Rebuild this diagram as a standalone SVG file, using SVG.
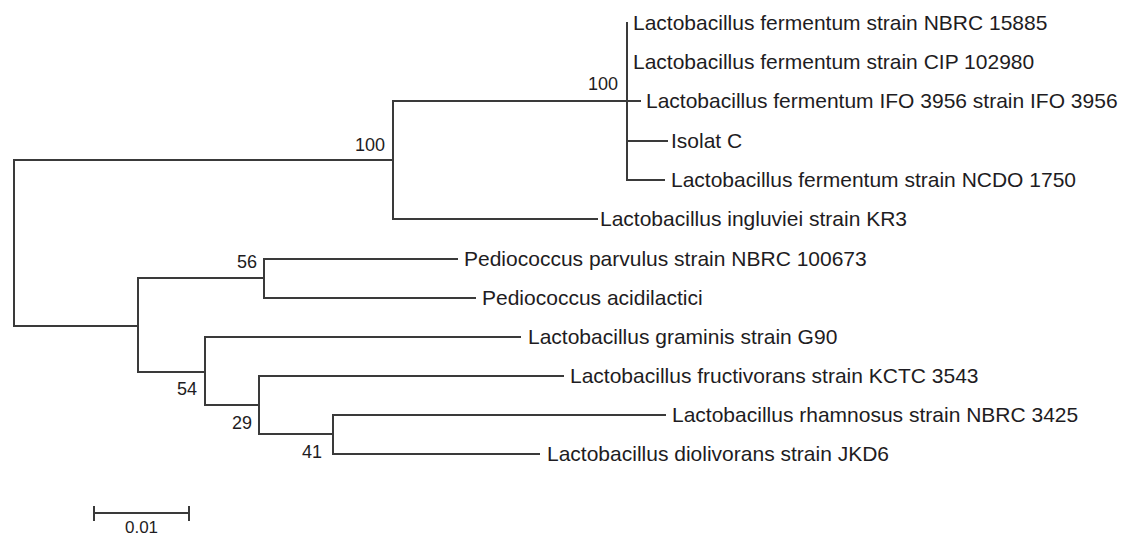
<svg xmlns="http://www.w3.org/2000/svg" width="1124" height="537" viewBox="0 0 1124 537">
<style>
.e{fill:none;stroke:#3a3a3a;stroke-width:2;stroke-linecap:square}
.l{font-family:"Liberation Sans",Arial,sans-serif;font-size:21px;fill:#1e1c22}
.b{font-family:"Liberation Sans",Arial,sans-serif;font-size:18px;fill:#1e1c22;text-anchor:end}
.s{font-family:"Liberation Sans",Arial,sans-serif;font-size:17px;fill:#1e1c22;text-anchor:middle}
</style>
<rect width="1124" height="537" fill="#ffffff"/>
<g id="connectors">
<path class="e" d="M14,160V326M14,160H393M14,326H138"/>
<path class="e" d="M393,101V219M393,101H627M393,219H597"/>
<path class="e" d="M627,23V180M627,101H640M627,141H667M627,180H664"/>
<path class="e" d="M138,278V372M138,278H264M138,372H205"/>
<path class="e" d="M264,259V298M264,259H457M264,298H475"/>
<path class="e" d="M205,337V405M205,337H520M205,405H259"/>
<path class="e" d="M259,376V434M259,376H563M259,434H333"/>
<path class="e" d="M333,415V454M333,415H665M333,454H539"/>
</g>
<g id="leaf-nbrc15885"><text class="l" x="633" y="30">Lactobacillus fermentum strain NBRC 15885</text></g>
<g id="leaf-cip102980"><text class="l" x="633" y="69">Lactobacillus fermentum strain CIP 102980</text></g>
<g id="leaf-ifo3956"><text class="l" x="646" y="108">Lactobacillus fermentum IFO 3956 strain IFO 3956</text></g>
<g id="leaf-isolatc"><text class="l" x="671" y="148">Isolat C</text></g>
<g id="leaf-ncdo1750"><text class="l" x="671" y="187">Lactobacillus fermentum strain NCDO 1750</text></g>
<g id="leaf-ingluviei"><text class="l" x="600" y="226">Lactobacillus ingluviei strain KR3</text></g>
<g id="leaf-parvulus"><text class="l" x="464" y="266">Pediococcus parvulus strain NBRC 100673</text></g>
<g id="leaf-acidilactici"><text class="l" x="482" y="305">Pediococcus acidilactici</text></g>
<g id="leaf-graminis"><text class="l" x="528" y="344">Lactobacillus graminis strain G90</text></g>
<g id="leaf-fructivorans"><text class="l" x="570" y="383">Lactobacillus fructivorans strain KCTC 3543</text></g>
<g id="leaf-rhamnosus"><text class="l" x="672" y="422">Lactobacillus rhamnosus strain NBRC 3425</text></g>
<g id="leaf-diolivorans"><text class="l" x="547" y="461">Lactobacillus diolivorans strain JKD6</text></g>
<g id="node-a"><text class="b" x="385" y="151">100</text></g>
<g id="node-b"><text class="b" x="618" y="90">100</text></g>
<g id="node-d"><text class="b" x="257" y="268">56</text></g>
<g id="node-e"><text class="b" x="197" y="395">54</text></g>
<g id="node-f"><text class="b" x="252" y="429">29</text></g>
<g id="node-g"><text class="b" x="322" y="458">41</text></g>
<g id="scale-bar">
<path class="e" d="M94,513H189M94,507V520M189,507V520"/>
<text class="s" x="141.5" y="533">0.01</text>
</g>
</svg>
